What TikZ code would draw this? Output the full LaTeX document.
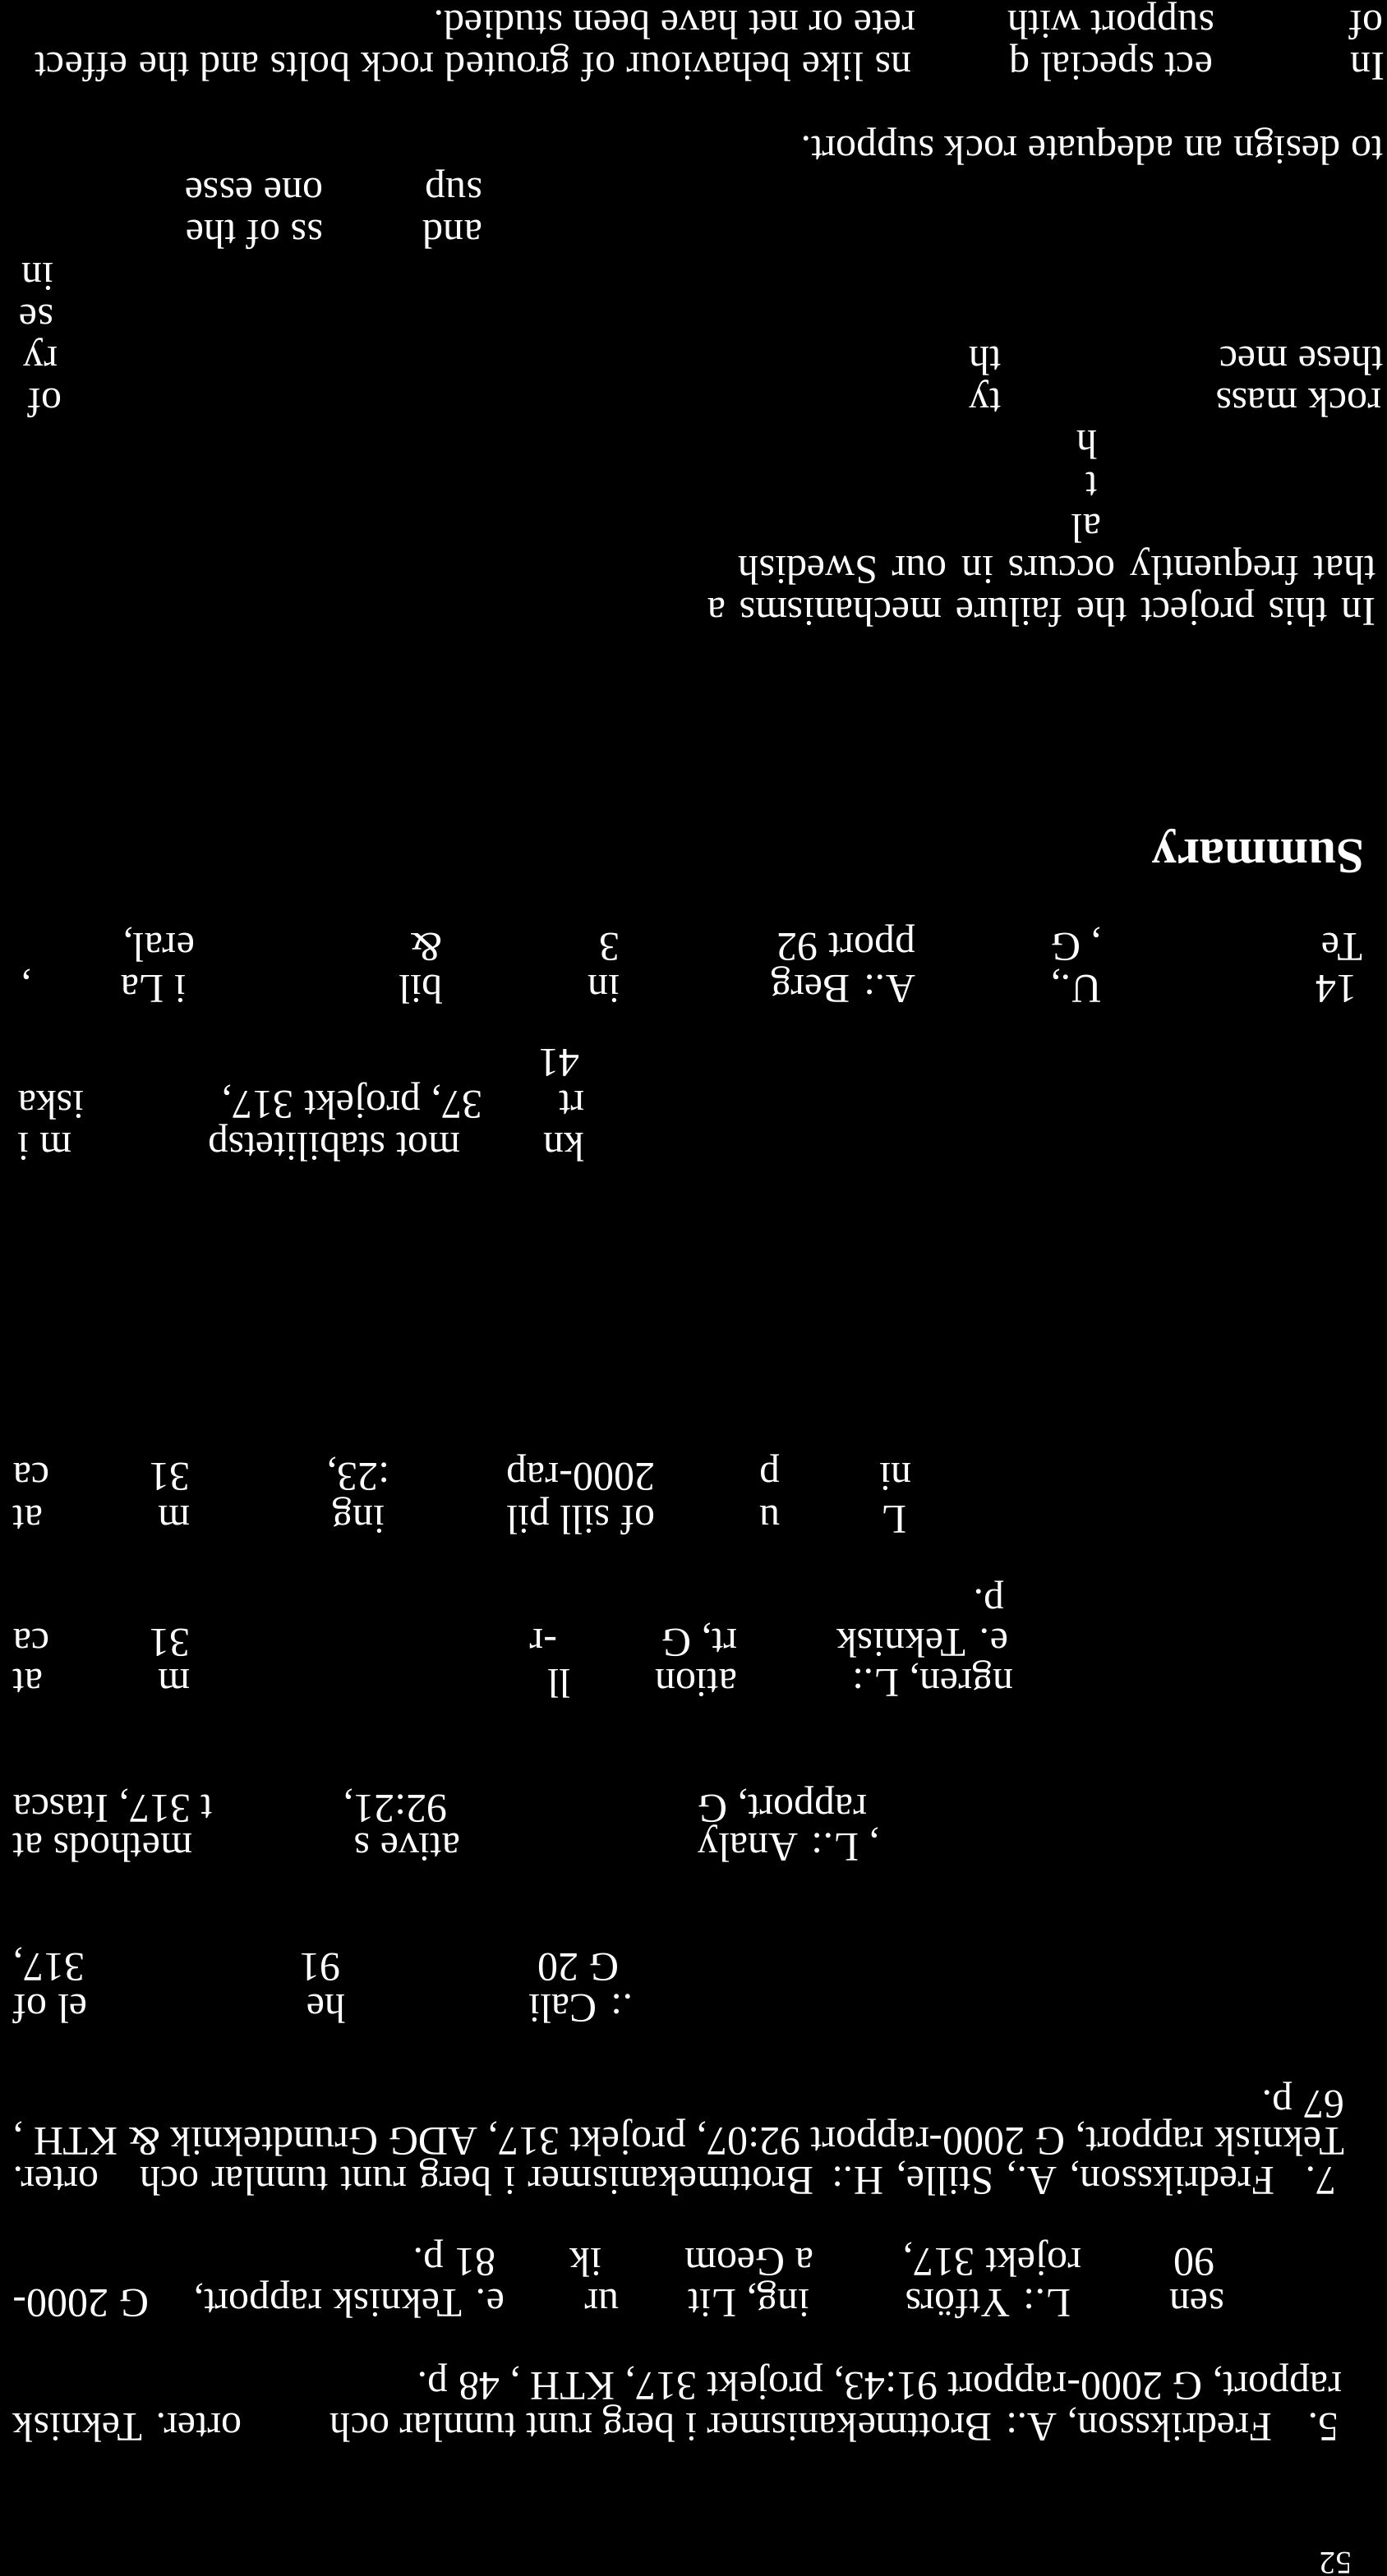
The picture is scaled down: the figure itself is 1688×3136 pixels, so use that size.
\documentclass[tikz,border=0pt]{standalone}
\usepackage{fontspec}
\setmainfont{Liberation Serif}
\newcommand\fw[4]{\node[txt] (#1) at ({1688-#2},#3) {#4};}
\newcommand\fe[4]{\node[txte] (#1) at ({1688-#2},#3) {#4};}
\begin{document}
\begin{tikzpicture}[x=1pt,y=-1pt]
\tikzset{
  txt/.style={rotate=180, anchor=base west, inner sep=0pt, outer sep=0pt, text=white, font=\fontsize{50}{50}\selectfont},
  txte/.style={txt, anchor=base east},
  pnum/.style={txt, font=\fontsize{39}{39}\selectfont},
  head/.style={txt, font=\fontsize{61}{61}\selectfont\bfseries},
}
\fill[black] (0,0) rectangle (1688,3136);
\useasboundingbox (0,0) rectangle (1688,3136);
% page number
\node[pnum] (pg) at ({1688-43},3107) {52};
% ref 5
\fw{a1}{59}{2938}{5.}
\fw{a2}{140}{2938}{\hbox to 1532pt{Fredriksson, A.: Brottmekanismer i berg runt tunnlar och\hfill orter. Teknisk}}
\fw{b1}{55}{2888}{rapport, G 2000-rapport 91:43, projekt 317, KTH , 48 p.}
% ref 6 fragments
\fw{c1}{198}{2787}{sen}
\fw{c2}{385}{2787}{L.: Ytförs}
\fw{c3}{703}{2787}{ing, Lit}
\fw{c4}{935}{2787}{ur}
\fw{c5}{1074}{2787}{\hbox to 598pt{e. Teknisk rapport,\hfill G 2000-}}
\fw{d1}{210}{2737}{90}
\fw{d2}{372}{2737}{rojekt 317,}
\fw{d3}{698}{2737}{a Geom}
\fw{d4}{956}{2737}{ik}
\fw{d5}{1085}{2737}{81 p.}
% ref 7
\fw{e1}{62}{2638}{7.}
\fw{e2}{137}{2638}{\hbox to 1535pt{Fredriksson, A., Stille, H.: Brottmekanismer i berg runt tunnlar och\quad orter.}}
\fw{f1}{52}{2590}{\hbox to 1620pt{Teknisk rapport, G 2000-rapport 92:07, projekt 317, ADG Grundteknik \& KTH ,}}
\fw{g1}{52}{2545}{67 p.}
% ref 8
\fw{h1}{918}{2428}{.: Cali}
\fw{h2}{1268}{2428}{he}
\fe{h3}{1672}{2428}{el of}
\fw{i1}{935}{2378}{G 20}
\fw{i2}{1274}{2378}{91}
\fe{i3}{1672}{2378}{317,}
% ref 9
\fw{j1}{618}{2232}{, L.: Analy}
\fw{j2}{1128}{2232}{ative s}
\fe{j3}{1672}{2232}{methods at}
\fw{k1}{633}{2185}{rapport, G}
\fw{k2}{1144}{2185}{92:21,}
\fe{k3}{1672}{2185}{t 317, Itasca}
% ref 10
\fw{l1}{455}{2032}{ngren, L.:}
\fw{l2}{791}{2032}{ation}
\fw{l3}{994}{2032}{ll}
\fw{l4}{1457}{2032}{m}
\fe{l5}{1672}{2032}{at}
\fw{m1}{461}{1983}{e. Teknisk}
\fw{m2}{791}{1983}{rt, G}
\fw{m3}{1010}{1983}{-r}
\fw{m4}{1457}{1983}{31}
\fe{m5}{1672}{1983}{ca}
\fw{n1}{466}{1935}{p.}
% ref 11
\fw{o1}{585}{1833}{L}
\fw{o2}{739}{1833}{u}
\fw{o3}{891}{1833}{of sill pil}
\fw{o4}{1220}{1833}{ing}
\fw{o5}{1457}{1833}{m}
\fe{o6}{1672}{1833}{at}
\fw{p1}{579}{1781}{ni}
\fw{p2}{739}{1781}{p}
\fw{p3}{891}{1781}{2000-rap}
\fw{p4}{1214}{1781}{:23,}
\fw{p5}{1457}{1781}{31}
\fe{p6}{1672}{1781}{ca}
% ref 13
\fw{q1}{977}{1379}{kn}
\fw{q2}{1128}{1379}{mot stabilitetsp}
\fe{q3}{1666}{1379}{m i}
\fw{r1}{977}{1328}{rt}
\fw{r2}{1101}{1328}{37, projekt 317,}
\fe{r3}{1666}{1328}{iska}
\fw{s1}{983}{1277}{41}
% ref 14
\fw{t1}{37}{1187}{14}
\fw{t2}{348}{1187}{U.,}
\fw{t3}{574}{1187}{A.: Berg}
\fw{t4}{934}{1187}{in}
\fw{t5}{1150}{1187}{bil}
\fw{t6}{1462}{1187}{i La}
\fw{t7}{1650}{1187}{,}
\fw{u1}{30}{1136}{Te}
\fw{u2}{348}{1136}{, G}
\fw{u3}{574}{1136}{pport 92}
\fw{u4}{934}{1136}{3}
\fw{u5}{1150}{1136}{\&}
\fw{u6}{1451}{1136}{eral,}
% Summary
\node[head] (sum) at ({1688-28},1022) {Summary};
\fw{v1}{14}{728}{\hbox to 813pt{In this project the failure mechanisms a}}
\fw{v2}{14}{677}{\hbox to 775pt{that frequently occurs in our Swedish}}
\fw{v3}{348}{626}{al}
\fw{v4}{353}{575}{t}
\fw{v5}{353}{524}{h}
\fw{w1}{7}{473}{rock mass}
\fw{w2}{470}{473}{ty}
\fw{w3}{1613}{473}{of}
\fw{x1}{5}{422}{these mec}
\fw{x2}{470}{422}{th}
\fw{x3}{1618}{422}{ry}
\fw{y1}{1623}{371}{se}
\fw{y2}{1623}{320}{in}
\fw{z1}{1101}{269}{and}
\fw{z2}{1295}{269}{ss of the}
\fw{z3}{1101}{218}{sup}
\fw{z4}{1295}{218}{one esse}
\fw{aa1}{5}{167}{to design an adequate rock support.}
\fw{bb1}{3}{65}{In}
\fw{bb2}{212}{65}{ect special q}
\fw{bb3}{579}{65}{\hbox to 1066pt{ns like behaviour of grouted rock bolts and the effect}}
\fw{cc1}{5}{14}{of}
\fw{cc2}{210}{14}{support with}
\fw{cc3}{574}{14}{rete or net have been studied.}
\end{tikzpicture}
\end{document}
